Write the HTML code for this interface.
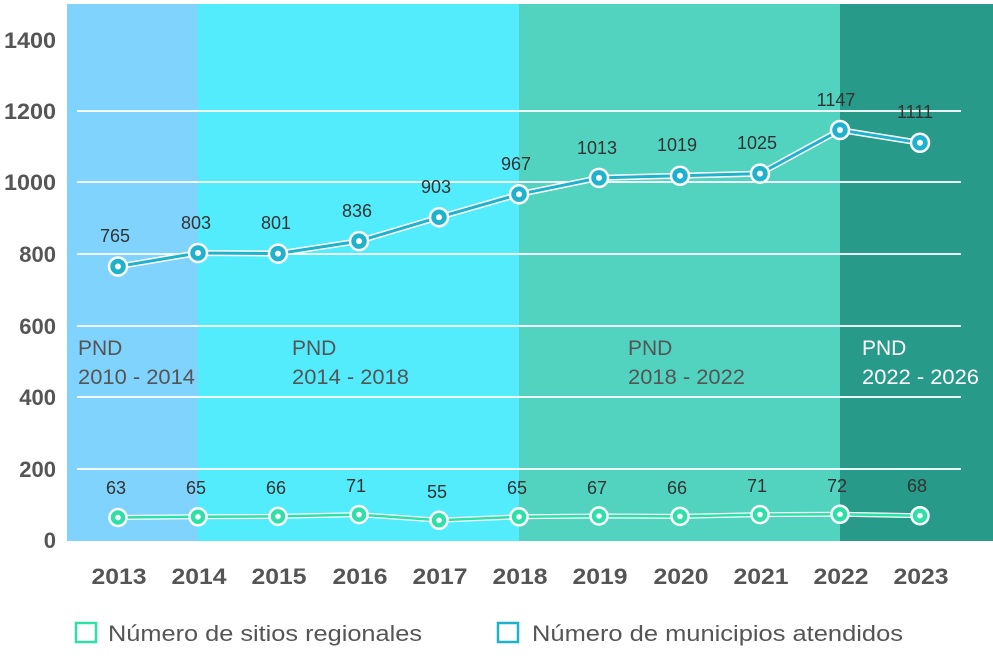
<!DOCTYPE html>
<html><head><meta charset="utf-8"><style>
body{margin:0;background:#fff;}
svg{display:block;font-family:"Liberation Sans",sans-serif;}
</style></head><body>
<svg width="993" height="668" viewBox="0 0 993 668">
<rect x="67" y="4" width="131" height="537" fill="#7fd3fd"/>
<rect x="198" y="4" width="321" height="537" fill="#52ecfd"/>
<rect x="519" y="4" width="321" height="537" fill="#52d3c0"/>
<rect x="840" y="4" width="153" height="537" fill="#279a89"/>
<g stroke="#fff" stroke-width="2" opacity="0.9">
<line x1="77" x2="961" y1="111" y2="111"/><line x1="77" x2="961" y1="182" y2="182"/>
<line x1="77" x2="961" y1="254" y2="254"/><line x1="77" x2="961" y1="326" y2="326"/>
<line x1="77" x2="961" y1="397" y2="397"/><line x1="77" x2="961" y1="469" y2="469"/>
</g>
<g font-size="22" font-weight="bold" fill="#555" text-anchor="end" lengthAdjust="spacingAndGlyphs">
<text x="56" y="48" textLength="52" lengthAdjust="spacingAndGlyphs">1400</text><text x="56" y="119" textLength="52" lengthAdjust="spacingAndGlyphs">1200</text><text x="56" y="190" textLength="52" lengthAdjust="spacingAndGlyphs">1000</text>
<text x="56" y="262">800</text><text x="56" y="334">600</text><text x="56" y="405">400</text>
<text x="56" y="477">200</text><text x="56" y="548">0</text>
</g>
<g font-size="21" fill="#555">
<text x="78" y="355">PND</text><text x="78" y="384" textLength="117" lengthAdjust="spacingAndGlyphs">2010 - 2014</text>
<text x="292" y="355">PND</text><text x="292" y="384" textLength="117" lengthAdjust="spacingAndGlyphs">2014 - 2018</text>
<text x="628" y="355">PND</text><text x="628" y="384" textLength="117" lengthAdjust="spacingAndGlyphs">2018 - 2022</text>
<text x="862" y="355" fill="#fff">PND</text><text x="862" y="384" fill="#fff" textLength="117" lengthAdjust="spacingAndGlyphs">2022 - 2026</text>
</g>
<polyline fill="none" stroke="#fff" stroke-width="6" points="118,266.5 198,253 278,253.6 359,241.1 439,217.2 519,194.3 599,177.9 680,175.7 760,173.6 840,130 920,142.8"/>
<polyline fill="none" stroke="#1fb2cc" stroke-width="3" points="118,266.5 198,253 278,253.6 359,241.1 439,217.2 519,194.3 599,177.9 680,175.7 760,173.6 840,130 920,142.8"/>
<polyline fill="none" stroke="#fff" stroke-width="5" points="118,517.5 198,516.8 278,516.4 359,514.6 439,520.3 519,516.8 599,516 680,516.4 760,514.6 840,514.3 920,515.7"/>
<polyline fill="none" stroke="#2ee0a8" stroke-width="2.5" points="118,517.5 198,516.8 278,516.4 359,514.6 439,520.3 519,516.8 599,516 680,516.4 760,514.6 840,514.3 920,515.7"/>
<g fill="#1fb2cc" stroke="#fff" stroke-width="2.5">
<circle cx="118" cy="266.5" r="9"/><circle cx="198" cy="253" r="9"/><circle cx="278" cy="253.6" r="9"/><circle cx="359" cy="241.1" r="9"/><circle cx="439" cy="217.2" r="9"/><circle cx="519" cy="194.3" r="9"/><circle cx="599" cy="177.9" r="9"/><circle cx="680" cy="175.7" r="9"/><circle cx="760" cy="173.6" r="9"/><circle cx="840" cy="130" r="9"/><circle cx="920" cy="142.8" r="9"/>
</g>
<g fill="#fff">
<circle cx="118" cy="266.5" r="3"/><circle cx="198" cy="253" r="3"/><circle cx="278" cy="253.6" r="3"/><circle cx="359" cy="241.1" r="3"/><circle cx="439" cy="217.2" r="3"/><circle cx="519" cy="194.3" r="3"/><circle cx="599" cy="177.9" r="3"/><circle cx="680" cy="175.7" r="3"/><circle cx="760" cy="173.6" r="3"/><circle cx="840" cy="130" r="3"/><circle cx="920" cy="142.8" r="3"/>
</g>
<g fill="#2ee0a8" stroke="#fff" stroke-width="2.5">
<circle cx="118" cy="517.5" r="8.5"/><circle cx="198" cy="516.8" r="8.5"/><circle cx="278" cy="516.4" r="8.5"/><circle cx="359" cy="514.6" r="8.5"/><circle cx="439" cy="520.3" r="8.5"/><circle cx="519" cy="516.8" r="8.5"/><circle cx="599" cy="516" r="8.5"/><circle cx="680" cy="516.4" r="8.5"/><circle cx="760" cy="514.6" r="8.5"/><circle cx="840" cy="514.3" r="8.5"/><circle cx="920" cy="515.7" r="8.5"/>
</g>
<g fill="#fff">
<circle cx="118" cy="517.5" r="2.8"/><circle cx="198" cy="516.8" r="2.8"/><circle cx="278" cy="516.4" r="2.8"/><circle cx="359" cy="514.6" r="2.8"/><circle cx="439" cy="520.3" r="2.8"/><circle cx="519" cy="516.8" r="2.8"/><circle cx="599" cy="516" r="2.8"/><circle cx="680" cy="516.4" r="2.8"/><circle cx="760" cy="514.6" r="2.8"/><circle cx="840" cy="514.3" r="2.8"/><circle cx="920" cy="515.7" r="2.8"/>
</g>
<g font-size="18" fill="#333" text-anchor="middle">
<text x="115" y="242">765</text><text x="196" y="229">803</text><text x="276" y="229">801</text><text x="357" y="217">836</text><text x="436" y="193">903</text><text x="516" y="170">967</text><text x="597" y="154">1013</text><text x="677" y="151">1019</text><text x="757" y="149">1025</text><text x="836" y="106">1147</text><text x="915" y="118">1111</text>
<text x="116" y="494">63</text><text x="196" y="494">65</text><text x="276" y="494">66</text><text x="356" y="492">71</text><text x="437" y="498">55</text><text x="517" y="494">65</text><text x="597" y="494">67</text><text x="677" y="494">66</text><text x="757" y="492">71</text><text x="837" y="492">72</text><text x="917" y="492">68</text>
</g>
<g font-size="22" font-weight="bold" fill="#555" text-anchor="middle">
<text x="119" y="584" textLength="55" lengthAdjust="spacingAndGlyphs">2013</text><text x="199" y="584" textLength="55" lengthAdjust="spacingAndGlyphs">2014</text><text x="279" y="584" textLength="55" lengthAdjust="spacingAndGlyphs">2015</text><text x="360" y="584" textLength="55" lengthAdjust="spacingAndGlyphs">2016</text><text x="440" y="584" textLength="55" lengthAdjust="spacingAndGlyphs">2017</text><text x="520" y="584" textLength="55" lengthAdjust="spacingAndGlyphs">2018</text><text x="600" y="584" textLength="55" lengthAdjust="spacingAndGlyphs">2019</text><text x="681" y="584" textLength="55" lengthAdjust="spacingAndGlyphs">2020</text><text x="761" y="584" textLength="55" lengthAdjust="spacingAndGlyphs">2021</text><text x="841" y="584" textLength="55" lengthAdjust="spacingAndGlyphs">2022</text><text x="921" y="584" textLength="55" lengthAdjust="spacingAndGlyphs">2023</text>
</g>
<rect x="76" y="623" width="20" height="19" fill="none" stroke="#2ee0a8" stroke-width="2.5"/>
<text x="108" y="641" font-size="22" fill="#555" textLength="314" lengthAdjust="spacingAndGlyphs">Número de sitios regionales</text>
<rect x="498" y="623" width="20" height="19" fill="none" stroke="#1fb2cc" stroke-width="2.5"/>
<text x="532" y="641" font-size="22" fill="#555" textLength="371" lengthAdjust="spacingAndGlyphs">Número de municipios atendidos</text>
</svg>
</body></html>
